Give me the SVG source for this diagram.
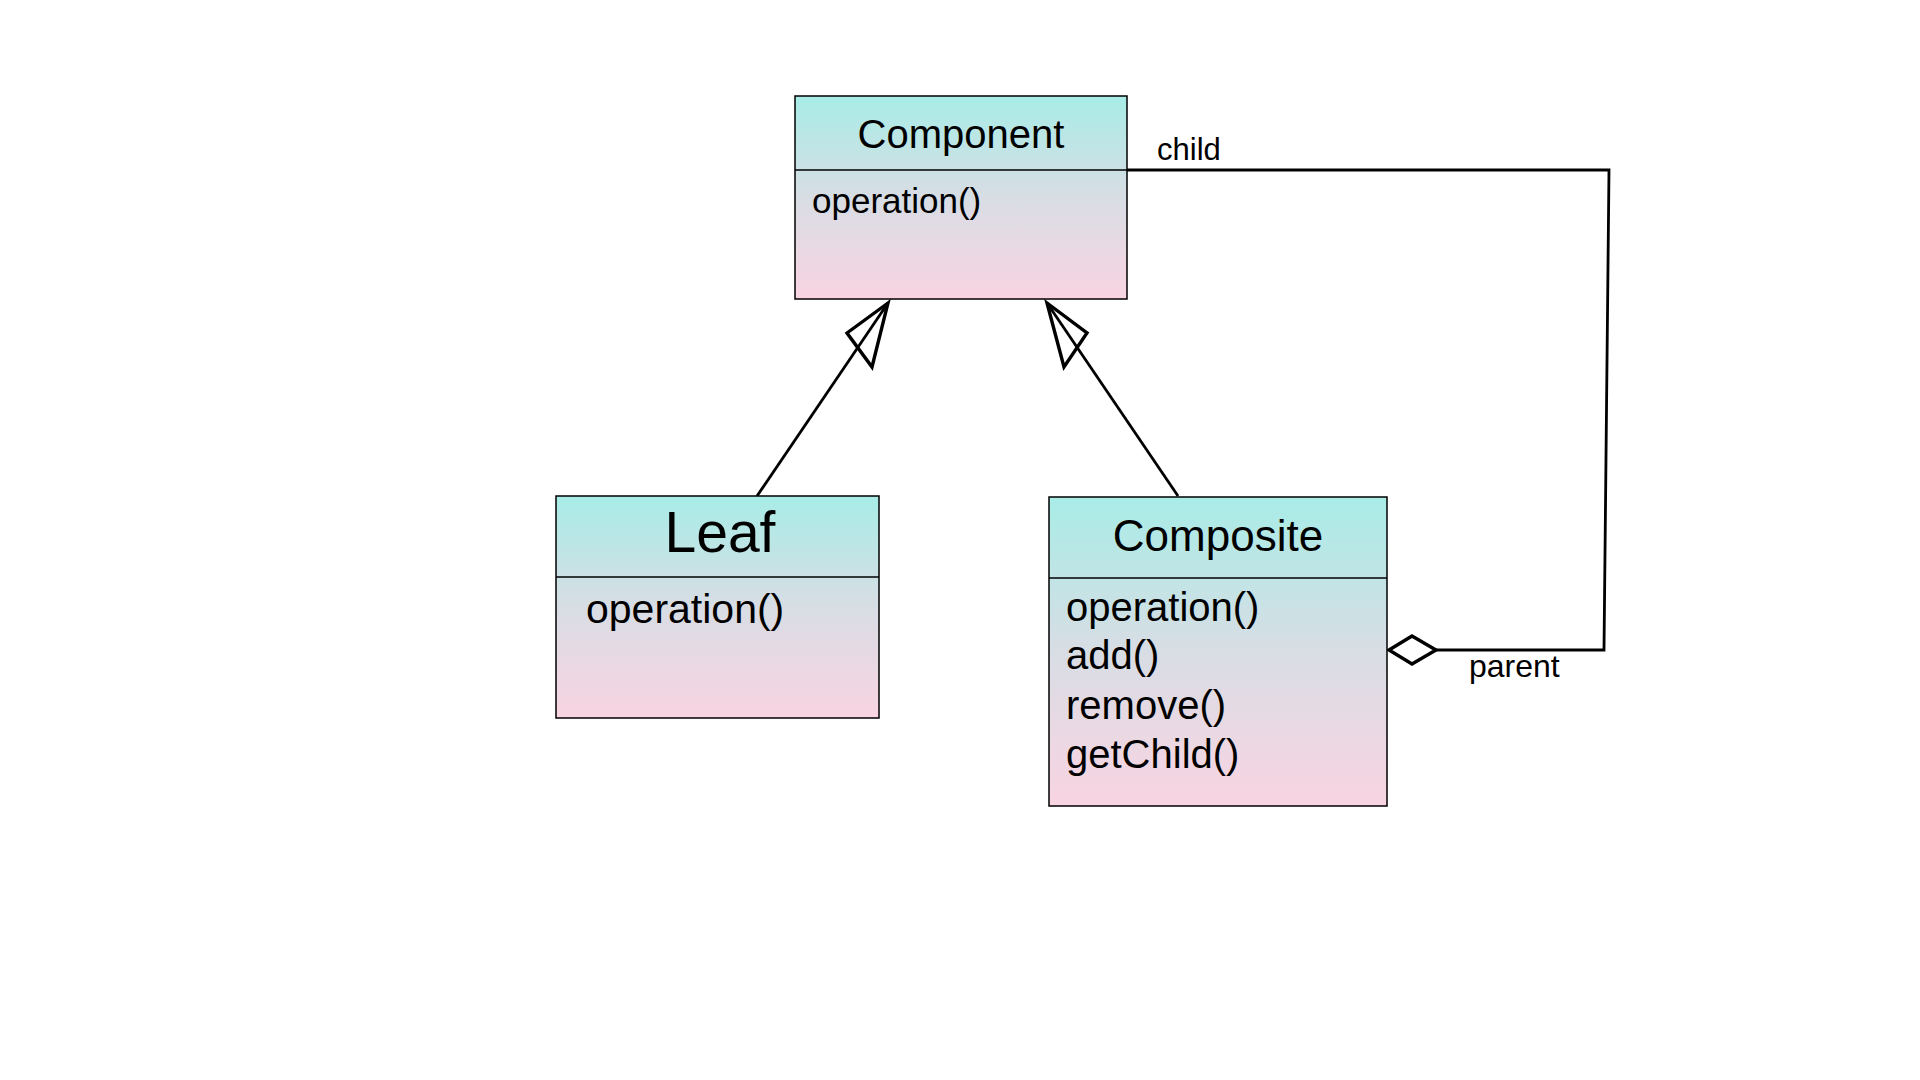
<svg xmlns="http://www.w3.org/2000/svg" width="1920" height="1080" viewBox="0 0 1920 1080">
<defs>
<linearGradient id="boxGrad" x1="0" y1="0" x2="0" y2="1">
<stop offset="0" stop-color="#a8ece7"/>
<stop offset="0.5" stop-color="#d8dde4"/>
<stop offset="1" stop-color="#f9d4e2"/>
</linearGradient>
</defs>
<style>
.box{fill:url(#boxGrad);stroke:#000;stroke-width:1.5}
.div{stroke:#000;stroke-width:1.5}
.t{font-family:"Liberation Sans","Noto Sans",sans-serif;fill:#000}
.title{text-anchor:middle}
.conn{fill:none;stroke:#000;stroke-width:2.8;stroke-linejoin:miter}
.head{fill:none;stroke:#000;stroke-width:3.4;stroke-linejoin:miter}
</style>
<rect width="1920" height="1080" fill="#fff"/>
<g id="connectors">
<path class="conn" d="M757 496 L888 303"/>
<path class="head" d="M888 303 L847 333 L872 367 Z"/>
<path class="conn" d="M1178 496 L1047 303"/>
<path class="head" d="M1047 303 L1087 333 L1064 367 Z"/>
<path class="conn" d="M1127 170 L1609 170 L1604 650 L1436 650"/>
<path class="head" d="M1389 650 L1412 636 L1436 650 L1412 664 Z"/>
<text class="t" x="1157" y="160" font-size="31">child</text>
<text class="t" x="1469" y="677" font-size="32">parent</text>
</g>
<g id="component">
<rect class="box" x="795" y="96" width="332" height="203"/>
<line class="div" x1="795" y1="170" x2="1127" y2="170"/>
<text class="t title" x="961" y="148" font-size="40">Component</text>
<text class="t" x="812" y="213" font-size="35">operation()</text>
</g>
<g id="leaf">
<rect class="box" x="556" y="496" width="323" height="222"/>
<line class="div" x1="556" y1="577" x2="879" y2="577"/>
<text class="t title" x="720" y="552" font-size="57">Leaf</text>
<text class="t" x="586" y="623" font-size="41">operation()</text>
</g>
<g id="composite">
<rect class="box" x="1049" y="497" width="338" height="309"/>
<line class="div" x1="1049" y1="578" x2="1387" y2="578"/>
<text class="t title" x="1218" y="551" font-size="44">Composite</text>
<text class="t" x="1066" y="621" font-size="40">operation()</text>
<text class="t" x="1066" y="669" font-size="40">add()</text>
<text class="t" x="1066" y="719" font-size="40">remove()</text>
<text class="t" x="1066" y="768" font-size="40">getChild()</text>
</g>
</svg>
